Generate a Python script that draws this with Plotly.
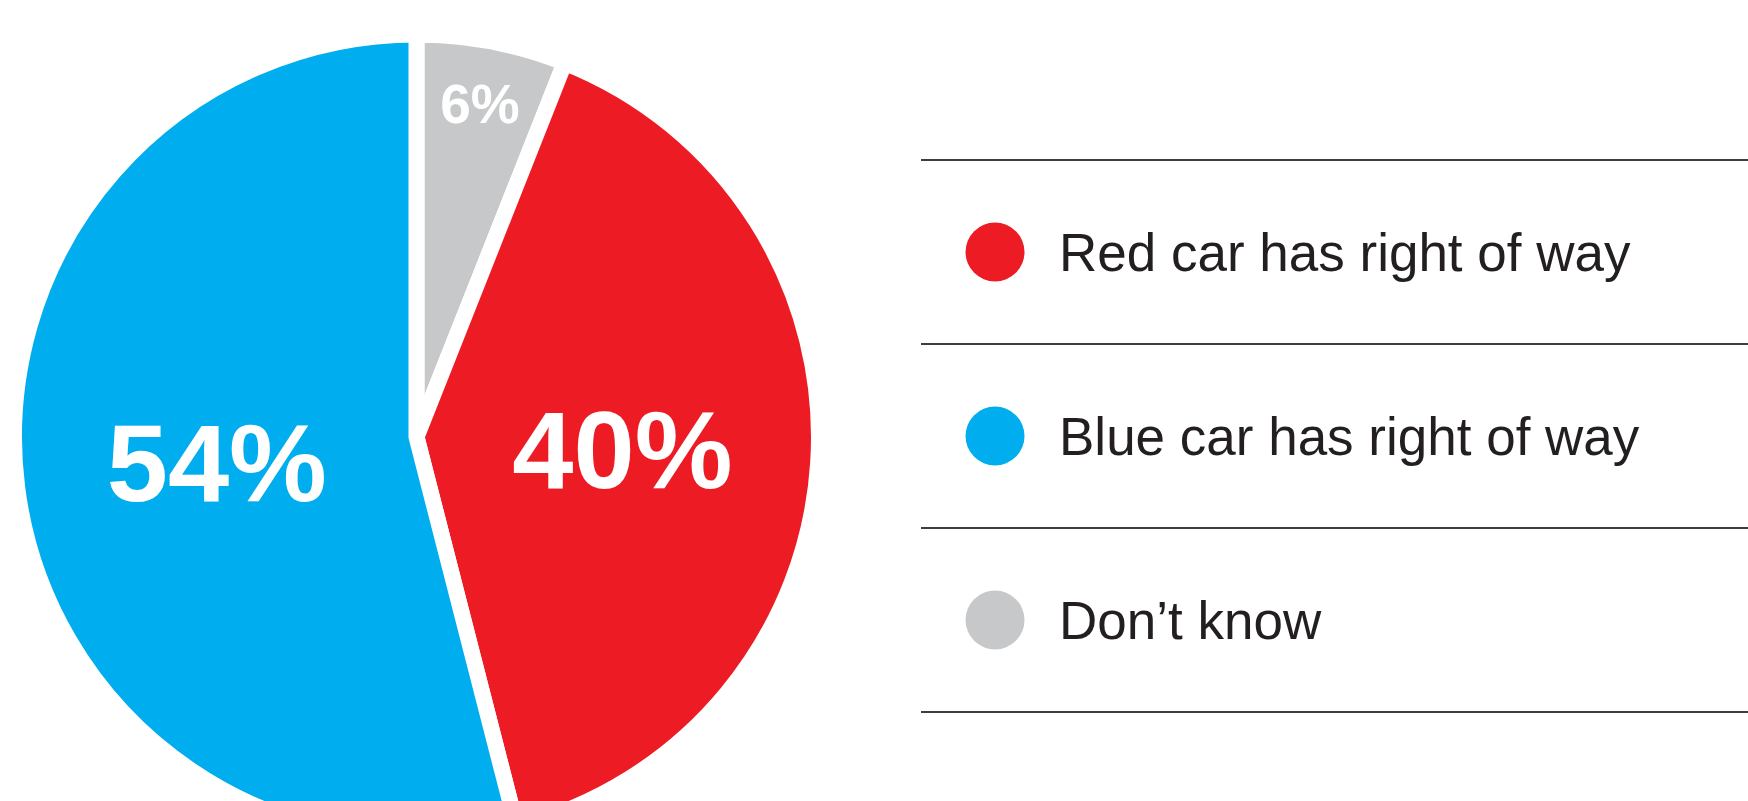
import plotly.graph_objects as go

# ---- data ----
categories = ["Don’t know", "Red car has right of way", "Blue car has right of way"]
values = [6, 40, 54]
slice_colors = ["#C7C8CA", "#ED1C24", "#00AEEF"]

legend_labels = ["Red car has right of way", "Blue car has right of way", "Don’t know"]
legend_colors = ["#ED1C24", "#00AEEF", "#C7C8CA"]
legend_rows = [0, 1, 2]

W, H = 1748, 860

fig = go.Figure()

fig.add_trace(go.Pie(
    labels=categories,
    values=values,
    sort=False,
    direction="clockwise",
    rotation=0,
    marker=dict(colors=slice_colors, line=dict(color="white", width=16)),
    textinfo="percent",
    texttemplate="%{percent:.0%}",
    textposition="inside",
    insidetextorientation="horizontal",
    insidetextfont=dict(family="Liberation Sans", color="white", size=[55, 110, 110], weight="bold"),
    domain=dict(x=[14 / W, 819 / W], y=[1 - 839.5 / H, 1 - 34.5 / H]),
    showlegend=False,
    hoverinfo="label+percent",
))

# legend markers
fig.add_trace(go.Scatter(
    x=[0.0895] * 3, y=legend_rows, mode="markers",
    marker=dict(size=59, color=legend_colors, line=dict(width=0)),
    showlegend=False, hoverinfo="skip", xaxis="x", yaxis="y",
))
# legend texts
fig.add_trace(go.Scatter(
    x=[0.1669] * 3, y=legend_rows, mode="text", text=legend_labels,
    textposition="middle right",
    textfont=dict(family="Liberation Sans", size=53, color="#231F20"),
    showlegend=False, hoverinfo="skip", xaxis="x", yaxis="y2",
))

shapes = []
for yv in [-0.5, 0.5, 1.5, 2.5]:
    shapes.append(dict(type="line", xref="paper", yref="y", x0=921 / W, x1=1.0, y0=yv, y1=yv,
                       line=dict(color="#3C3F42", width=2)))

shift = 6  # px, text baseline nudge
fig.update_layout(
    width=W, height=H,
    margin=dict(l=0, r=0, t=0, b=0),
    paper_bgcolor="white", plot_bgcolor="rgba(0,0,0,0)",
    xaxis=dict(domain=[921 / W, 1.0], range=[0, 1], visible=False, fixedrange=True),
    yaxis=dict(domain=[1 - 730.4 / H, 1 - 141.6 / H], range=[2.6, -0.6], visible=False, fixedrange=True),
    yaxis2=dict(domain=[1 - (730.4 + shift) / H, 1 - (141.6 + shift) / H], range=[2.6, -0.6],
                visible=False, fixedrange=True, anchor="x"),
    shapes=shapes,
    showlegend=False,
)

fig.write_html(
    "out.html",
    config={"displayModeBar": False},
    post_script="document.body.style.overflow='hidden';document.documentElement.style.overflow='hidden';",
)
